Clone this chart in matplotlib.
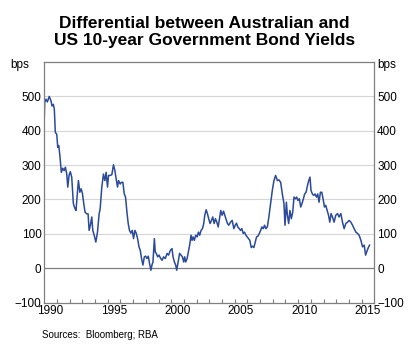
import matplotlib
matplotlib.use("Agg")
import matplotlib.pyplot as plt

plt.rcParams['font.family'] = ['Liberation Sans', 'DejaVu Sans']

years = [
    1990.00, 1990.03, 1990.13, 1990.24, 1990.39, 1990.53, 1990.61, 1990.71, 1990.79, 1990.87,
    1990.98, 1991.06, 1991.14, 1991.24, 1991.34, 1991.45, 1991.56, 1991.66, 1991.77, 1991.85,
    1991.95, 1992.05, 1992.16, 1992.29, 1992.40, 1992.50, 1992.61, 1992.69, 1992.80, 1992.90,
    1993.00, 1993.11, 1993.21, 1993.35, 1993.45, 1993.53, 1993.63, 1993.74, 1993.82, 1993.93,
    1994.06, 1994.19, 1994.32, 1994.40, 1994.53, 1994.66, 1994.77, 1994.87, 1994.98, 1995.06,
    1995.19, 1995.32, 1995.45, 1995.56, 1995.66, 1995.77, 1995.85, 1995.98, 1996.08, 1996.19,
    1996.30, 1996.40, 1996.51, 1996.61, 1996.71, 1996.82, 1996.93, 1997.03, 1997.14, 1997.24,
    1997.35, 1997.46, 1997.56, 1997.66, 1997.77, 1997.88, 1997.98, 1998.09, 1998.19, 1998.29,
    1998.40, 1998.48, 1998.56, 1998.67, 1998.74, 1998.82, 1998.93, 1999.04, 1999.14, 1999.27,
    1999.40, 1999.53, 1999.67, 1999.79, 1999.93, 2000.06, 2000.14, 2000.25, 2000.35, 2000.43,
    2000.54, 2000.66, 2000.77, 2000.88, 2000.98, 2001.06, 2001.14, 2001.25, 2001.35, 2001.45,
    2001.56, 2001.64, 2001.72, 2001.82, 2001.93, 2002.04, 2002.14, 2002.24, 2002.35, 2002.46,
    2002.56, 2002.64, 2002.75, 2002.85, 2002.95, 2003.06, 2003.17, 2003.27, 2003.38, 2003.48,
    2003.59, 2003.70, 2003.80, 2003.90, 2004.01, 2004.12, 2004.22, 2004.33, 2004.43, 2004.53,
    2004.67, 2004.80, 2004.93, 2005.04, 2005.14, 2005.24, 2005.36, 2005.46, 2005.56, 2005.67,
    2005.77, 2005.88, 2005.99, 2006.09, 2006.19, 2006.30, 2006.41, 2006.51, 2006.62, 2006.72,
    2006.82, 2006.94, 2007.04, 2007.14, 2007.25, 2007.35, 2007.46, 2007.57, 2007.69, 2007.83,
    2007.96, 2008.09, 2008.22, 2008.36, 2008.48, 2008.62, 2008.75, 2008.88, 2008.96, 2009.07,
    2009.15, 2009.25, 2009.35, 2009.46, 2009.57, 2009.67, 2009.78, 2009.88, 2009.98, 2010.09,
    2010.20, 2010.30, 2010.41, 2010.51, 2010.62, 2010.73, 2010.83, 2010.93, 2011.01, 2011.12,
    2011.22, 2011.33, 2011.44, 2011.54, 2011.64, 2011.75, 2011.86, 2011.96, 2012.07, 2012.17,
    2012.28, 2012.39, 2012.49, 2012.59, 2012.70, 2012.83, 2012.96, 2013.10, 2013.22, 2013.36,
    2013.49, 2013.62, 2013.75, 2013.89, 2014.01, 2014.15, 2014.28, 2014.41, 2014.54, 2014.68,
    2014.80, 2014.94, 2015.07, 2015.20, 2015.31, 2015.44, 2015.55, 2015.62,
]

# AU minus US 10-year yield, basis points
spread = [
    438, 482, 492, 484, 500, 487, 472, 477, 463, 395,
    390, 352, 357, 323, 279, 291, 284, 294, 274, 236,
    270, 281, 265, 188, 175, 168, 221, 255, 221, 231,
    219, 188, 163, 158, 158, 110, 125, 149, 110, 96,
    76, 105, 158, 173, 236, 274, 255, 279, 236, 270,
    270, 272, 301, 284, 260, 236, 255, 245, 250, 250,
    216, 207, 163, 130, 110, 102, 110, 86, 110, 102,
    86, 62, 52, 28, 9, 33, 35, 28, 35, 14,
    -6, 9, 18, 86, 47, 43, 33, 38, 30, 23,
    33, 28, 43, 38, 52, 57, 33, 18, 9, -6,
    18, 43, 38, 33, 18, 33, 18, 28, 47, 67,
    96, 81, 91, 81, 96, 91, 105, 96, 110, 115,
    130, 154, 170, 159, 144, 130, 139, 149, 130, 144,
    134, 120, 144, 168, 154, 166, 154, 141, 130, 125,
    134, 139, 115, 125, 131, 120, 115, 110, 115, 101,
    105, 96, 91, 86, 81, 60, 64, 60, 76, 91,
    93, 101, 110, 120, 115, 125, 115, 120, 149, 188,
    226, 255, 270, 255, 257, 250, 216, 188, 125, 192,
    154, 130, 168, 144, 163, 207, 202, 207, 197, 202,
    178, 188, 202, 216, 221, 240, 255, 265, 226, 216,
    212, 216, 207, 216, 192, 221, 221, 202, 178, 183,
    168, 154, 134, 159, 149, 134, 154, 159, 149, 159,
    134, 115, 130, 134, 139, 134, 125, 115, 105, 101,
    96, 81, 62, 67, 38, 52, 62, 67,
]

year_labels = ['1990', '1995', '2000', '2005', '2010', '2015']
y_ticks = [-100, 0, 100, 200, 300, 400, 500]

grey = '#7f7f7f'
blue = '#2b4a9b'

fig = plt.figure(figsize=(4.09, 3.52), dpi=100)
ax = fig.add_axes([0.1083, 0.1406, 0.807, 0.683])

for y in y_ticks:
    if y > 0:
        ax.axhline(y, color='#d6d6d6', lw=0.8, zorder=0)
ax.axhline(0, color=grey, lw=0.9, zorder=1)

ax.plot(years, spread, color=blue, lw=1.1, zorder=2)

ax.set_xlim(1990, 2016)
ax.set_ylim(-100, 600)

ax.set_yticks(y_ticks)
ax.tick_params(axis='y', length=0, labelsize=8.5, labelright=True, pad=2)

# labels sit mid-year, small ticks at year boundaries
ax.set_xticks([int(s) + 0.5 for s in year_labels], labels=year_labels)
ax.set_xticks(range(1991, 2016), minor=True)
ax.tick_params(axis='x', which='major', length=0, labelsize=8.5, pad=2)
ax.tick_params(axis='x', which='minor', direction='in', length=3, width=0.8, color=grey)

for s in ax.spines.values():
    s.set_color(grey)
    s.set_linewidth(0.9)

fig.text(0.5, 0.909, 'Differential between Australian and\nUS 10-year Government Bond Yields',
         ha='center', va='center', fontsize=12.5, fontweight='bold', linespacing=1.15)
fig.text(0.025, 0.815, 'bps', fontsize=8.5, va='center', ha='left')
fig.text(0.922, 0.815, 'bps', fontsize=8.5, va='center', ha='left')
fig.text(0.103, 0.048, 'Sources:  Bloomberg; RBA', fontsize=7, va='center', ha='left')

fig.savefig('out.png', dpi=100)
